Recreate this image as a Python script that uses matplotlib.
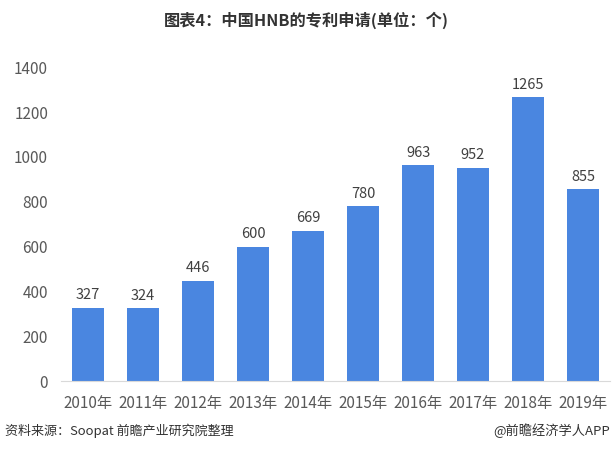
import numpy as np
import matplotlib.pyplot as plt

plt.rcParams['font.family'] = ['Noto Sans CJK SC', 'DejaVu Sans']

# data
years = ['2010年', '2011年', '2012年', '2013年', '2014年',
         '2015年', '2016年', '2017年', '2018年', '2019年']
patents = [327, 324, 446, 600, 669, 780, 963, 952, 1265, 855]

fig = plt.figure(figsize=(6.12, 4.49), dpi=100)
ax = fig.add_axes([0.099, 0.1514, 0.8985, 0.699])

x = np.arange(len(years))
bars = ax.bar(x, patents, width=0.58, color='#4a86e0')
for xi, v in zip(x, patents):
    ax.text(xi, v + 25, str(v), ha='center', va='bottom',
            fontsize=10.5, color='#404040')

ax.set_xlim(-0.5, len(years) - 0.5)
ax.set_ylim(0, 1400)
ax.set_yticks(range(0, 1401, 200))
ax.set_xticks(x)
ax.set_xticklabels(years)
ax.tick_params(axis='both', length=0, labelsize=11, colors='#595959')
ax.tick_params(axis='x', pad=10)
ax.tick_params(axis='y', pad=9)
for s in ['top', 'right', 'left']:
    ax.spines[s].set_visible(False)
ax.spines['bottom'].set_color('#d9d9d9')

fig.text(0.5, 0.955, '图表4：中国HNB的专利申请(单位：个)', ha='center', va='center',
         fontsize=11.7, fontweight='bold', color='#333333')
fig.text(0.008, 0.04, '资料来源：Soopat 前瞻产业研究院整理', ha='left', va='center',
         fontsize=9.4, color='#333333')
fig.text(0.997, 0.04, '@前瞻经济学人APP', ha='right', va='center',
         fontsize=9.5, color='#333333')

fig.savefig('out.png', dpi=100)
